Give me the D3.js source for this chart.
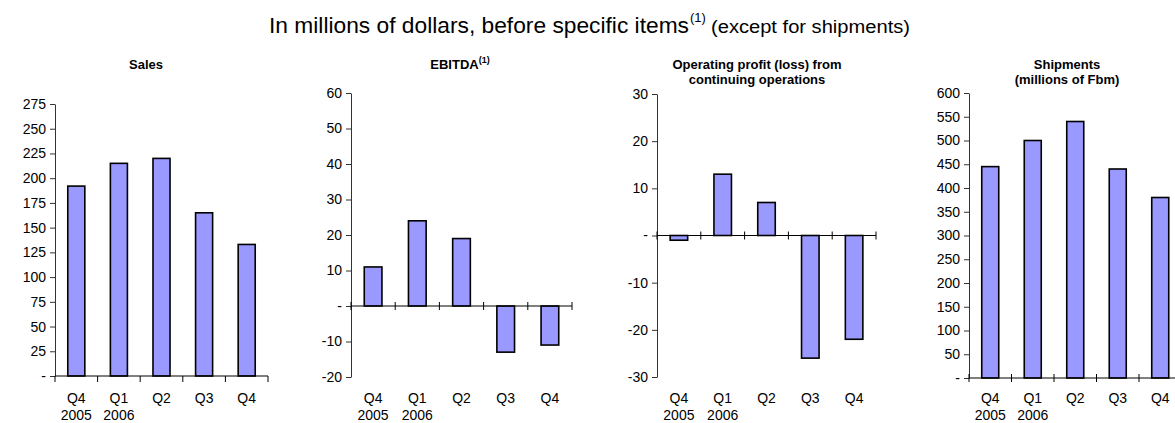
<!DOCTYPE html>
<html>
<head>
<meta charset="utf-8">
<script src="https://cdn.jsdelivr.net/npm/d3@7"></script>
<style>
  html, body { margin: 0; padding: 0; background: #fff; }
  svg { display: block; font-family: "Liberation Sans", Arial, sans-serif; }
</style>
</head>
<body>
<svg id="chart" width="1175" height="423"></svg>
<script>
// Quarterly figures, Q4 2005 through Q4 2006
const quarters = ["Q4", "Q1", "Q2", "Q3", "Q4"];
const years = ["2005", "2006", "", "", ""];

const sales = [192, 215, 220, 165, 133];
const ebitda = [11, 24, 19, -13, -11];
const operatingProfit = [-1, 13, 7, -26, -22];
const shipments = [445, 500, 540, 440, 380];

const salesTicks = [0, 25, 50, 75, 100, 125, 150, 175, 200, 225, 250, 275];
const ebitdaTicks = [-20, -10, 0, 10, 20, 30, 40, 50, 60];
const operatingTicks = [-30, -20, -10, 0, 10, 20, 30];
const shipmentTicks = [0, 50, 100, 150, 200, 250, 300, 350, 400, 450, 500, 550, 600];

const salesTitle = ["Sales"];
const ebitdaTitle = ["EBITDA"];
const operatingTitle = ["Operating profit (loss) from", "continuing operations"];
const shipmentTitle = ["Shipments", "(millions of Fbm)"];

const svg = d3.select("#chart");

// Page heading with footnote marker
svg.append("text")
  .attr("x", 269).attr("y", 33)
  .attr("font-size", 22)
  .attr("textLength", 420).attr("lengthAdjust", "spacingAndGlyphs")
  .text("In millions of dollars, before specific items");
svg.append("text")
  .attr("x", 690).attr("y", 22)
  .attr("font-size", 13)
  .text("(1)");
svg.append("text")
  .attr("x", 711).attr("y", 33)
  .attr("font-size", 18)
  .attr("textLength", 199).attr("lengthAdjust", "spacingAndGlyphs")
  .text("(except for shipments)");

const panels = [
  { values: sales, ticks: salesTicks, title: salesTitle, sup: false,
    x0: 55, x1: 268, yTop: 104, yBot: 376, crossTicks: false, titleX: 146 },
  { values: ebitda, ticks: ebitdaTicks, title: ebitdaTitle, sup: true,
    x0: 351, x1: 572, yTop: 93, yBot: 377, crossTicks: true, titleX: 460 },
  { values: operatingProfit, ticks: operatingTicks, title: operatingTitle, sup: false,
    x0: 657, x1: 876, yTop: 94, yBot: 377, crossTicks: true, titleX: 757 },
  { values: shipments, ticks: shipmentTicks, title: shipmentTitle, sup: false,
    x0: 969, x1: 1181.5, yTop: 93, yBot: 378, crossTicks: true, titleX: 1067 }
];

panels.forEach(p => {
  const g = svg.append("g");

  const x = d3.scaleBand()
    .domain(d3.range(quarters.length))
    .range([p.x0, p.x1])
    .paddingInner(0.6)
    .paddingOuter(0.3);

  const edges = d3.scaleLinear()
    .domain([0, quarters.length])
    .range([p.x0, p.x1]);

  const y = d3.scaleLinear()
    .domain(d3.extent(p.ticks))
    .range([p.yBot, p.yTop]);

  // Value axis
  const yAxis = g.append("g")
    .attr("transform", `translate(${p.x0},0)`)
    .call(d3.axisLeft(y)
      .tickValues(p.ticks)
      .tickSize(5)
      .tickSizeOuter(0)
      .tickPadding(4)
      .tickFormat(d => d === 0 ? "-" : d));
  yAxis.select(".domain").attr("stroke", "#333");
  yAxis.selectAll(".tick line").attr("stroke", "#333");
  yAxis.selectAll(".tick text")
    .attr("font-size", 14)
    .attr("font-family", "Liberation Sans, Arial, sans-serif")
    .attr("fill", "#000");

  // Bars
  g.selectAll("rect.bar")
    .data(p.values)
    .join("rect")
    .attr("class", "bar")
    .attr("x", (d, i) => x(i))
    .attr("width", x.bandwidth())
    .attr("y", d => y(Math.max(0, d)))
    .attr("height", d => Math.abs(y(d) - y(0)))
    .attr("fill", "#9999ff")
    .attr("stroke", "#000")
    .attr("stroke-width", 1.6);

  // Category axis at zero
  const y0 = y(0);
  g.append("line")
    .attr("x1", p.x0).attr("x2", p.x1)
    .attr("y1", y0).attr("y2", y0)
    .attr("stroke", "#000").attr("stroke-width", 1);

  g.selectAll("line.cat-tick")
    .data(d3.range(quarters.length + 1))
    .join("line")
    .attr("class", "cat-tick")
    .attr("x1", d => edges(d)).attr("x2", d => edges(d))
    .attr("y1", p.crossTicks ? y0 - 4 : y0)
    .attr("y2", p.crossTicks ? y0 + 4 : y0 + 6)
    .attr("stroke", "#000").attr("stroke-width", 1);

  // Category labels along the bottom
  g.selectAll("text.quarter")
    .data(quarters)
    .join("text")
    .attr("class", "quarter")
    .attr("x", (d, i) => x(i) + x.bandwidth() / 2)
    .attr("y", 403)
    .attr("text-anchor", "middle")
    .attr("font-size", 14)
    .text(d => d);

  g.selectAll("text.year")
    .data(years)
    .join("text")
    .attr("class", "year")
    .attr("x", (d, i) => x(i) + x.bandwidth() / 2)
    .attr("y", 419.5)
    .attr("text-anchor", "middle")
    .attr("font-size", 14)
    .text(d => d);

  // Panel title
  const t = g.append("text")
    .attr("x", p.titleX).attr("y", 69)
    .attr("text-anchor", "middle")
    .attr("font-size", 13)
    .attr("font-weight", "bold");
  p.title.forEach((line, i) => {
    t.append("tspan")
      .attr("x", p.titleX)
      .attr("dy", i === 0 ? 0 : 15)
      .text(line);
  });
  if (p.sup) {
    t.append("tspan").attr("font-size", 9).attr("dy", -6).text("(1)");
  }
});
</script>
</body>
</html>
